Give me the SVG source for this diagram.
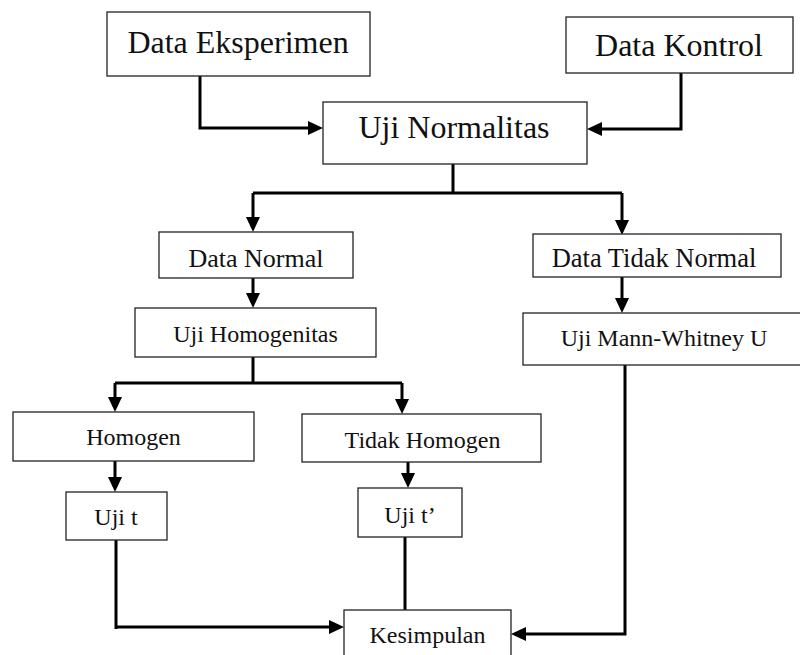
<svg xmlns="http://www.w3.org/2000/svg" width="800" height="655" viewBox="0 0 800 655">
<style>
.box{fill:#fff;stroke:#222;stroke-width:1.3}
.t{font-family:"Liberation Serif","Times New Roman",serif;fill:#111;text-anchor:middle}
.c{fill:none;stroke:#000;stroke-width:3}
</style>
<defs>
<marker id="ah" markerUnits="userSpaceOnUse" markerWidth="15" markerHeight="14" refX="1" refY="7" orient="auto">
<path d="M0,0 L15,7 L0,14 z" fill="#000"/>
</marker>
</defs>
<rect width="800" height="655" fill="#fff"/>
<g id="connectors">
<path class="c" d="M200,76 V128 H309" marker-end="url(#ah)"/>
<path class="c" d="M681,73 V129 H601" marker-end="url(#ah)"/>
<path class="c" d="M453,164 V193"/>
<path class="c" d="M253,193 H622"/>
<path class="c" d="M253,193 V218" marker-end="url(#ah)"/>
<path class="c" d="M622,193 V221" marker-end="url(#ah)"/>
<path class="c" d="M253,278 V294" marker-end="url(#ah)"/>
<path class="c" d="M622,277 V299" marker-end="url(#ah)"/>
<path class="c" d="M253,357 V383"/>
<path class="c" d="M115,383 H402"/>
<path class="c" d="M115,383 V398" marker-end="url(#ah)"/>
<path class="c" d="M402,383 V400" marker-end="url(#ah)"/>
<path class="c" d="M115,461 V478" marker-end="url(#ah)"/>
<path class="c" d="M408,462 V474" marker-end="url(#ah)"/>
<path class="c" d="M116,540 V629"/>
<path class="c" d="M116,627 H330" marker-end="url(#ah)"/>
<path class="c" d="M405,537 V610"/>
<path class="c" d="M625,365 V634 H525" marker-end="url(#ah)"/>
</g>
<g id="data-eksperimen"><rect class="box" x="107" y="12" width="263" height="64"/><text class="t" x="238" y="53" font-size="32">Data Eksperimen</text></g>
<g id="data-kontrol"><rect class="box" x="566" y="17" width="227" height="56"/><text class="t" x="679" y="56" font-size="32">Data Kontrol</text></g>
<g id="uji-normalitas"><rect class="box" x="323" y="102" width="264" height="62"/><text class="t" x="454" y="138" font-size="32">Uji Normalitas</text></g>
<g id="data-normal"><rect class="box" x="159" y="232" width="194" height="46"/><text class="t" x="256" y="267" font-size="26">Data Normal</text></g>
<g id="data-tidak-normal"><rect class="box" x="533" y="234" width="248" height="43"/><text class="t" x="654" y="267" font-size="26.5">Data Tidak Normal</text></g>
<g id="uji-homogenitas"><rect class="box" x="135" y="308" width="241" height="49"/><text class="t" x="255.5" y="342" font-size="24">Uji Homogenitas</text></g>
<g id="uji-mann-whitney"><rect class="box" x="523" y="313" width="290" height="52"/><text class="t" x="664" y="346" font-size="24">Uji Mann-Whitney U</text></g>
<g id="homogen"><rect class="box" x="13" y="412" width="241" height="49"/><text class="t" x="133.5" y="445" font-size="24">Homogen</text></g>
<g id="tidak-homogen"><rect class="box" x="302" y="414" width="239" height="48"/><text class="t" x="422.5" y="448" font-size="24">Tidak Homogen</text></g>
<g id="uji-t"><rect class="box" x="66" y="492" width="101" height="48"/><text class="t" x="116" y="525" font-size="24">Uji t</text></g>
<g id="uji-t-aksen"><rect class="box" x="358" y="488" width="104" height="49"/><text class="t" x="410" y="523" font-size="24">Uji t’</text></g>
<g id="kesimpulan"><rect class="box" x="344" y="610" width="167" height="60"/><text class="t" x="427.5" y="643" font-size="24">Kesimpulan</text></g>
</svg>
